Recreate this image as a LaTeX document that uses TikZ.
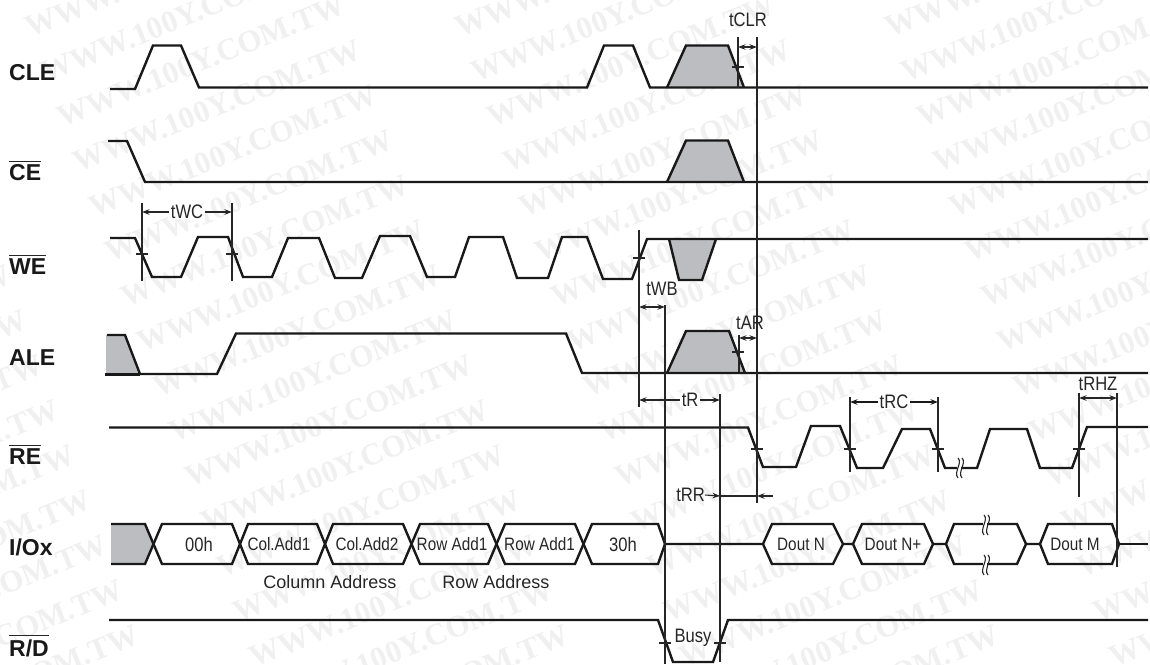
\documentclass[tikz,border=0pt]{standalone}
\usepackage{fontspec}
\setmainfont{Liberation Sans}
\newfontfamily\markfont{Liberation Serif}[BoldFont={Liberation Serif Bold}]
\newfontfamily\condfont[FakeStretch=0.85]{Liberation Sans}
\usetikzlibrary{positioning,arrows.meta}
\definecolor{shadegray}{RGB}{187,189,192}
\def\wmstepx{430}
\def\wmstepy{45}
\newcommand{\breakmark}[2]{
  \fill[white] (#1-2,#2-7) rectangle (#1+2,#2+7);
  \draw[thin line] (#1-1,#2-10) .. controls (#1+4,#2-5) and (#1-6,#2+4) .. (#1-1,#2+10);
  \draw[thin line] (#1+3,#2-10) .. controls (#1+8,#2-5) and (#1-2,#2+4) .. (#1+3,#2+10);
}
\tikzset{
>={Stealth[length=7.5pt,width=5.5pt]}, % small solid tips
sig line/.style={line width=2.4pt,black!90},
thin line/.style={line width=1.1pt,black!85},
dim/.style={thin line},
dim thick/.style={line width=2pt,black!90},
shaded/.style={fill=shadegray},
sig label/.style={font=\fontsize{23}{26}\bfseries\selectfont,anchor=west,inner sep=0pt,black!90},
time label/.style={font=\fontsize{19.5}{22}\condfont\selectfont,inner sep=0pt,black!85},
gap label/.style={time label,fill=white,inner xsep=2pt},
bus label/.style={font=\fontsize{18}{20}\condfont\selectfont,inner sep=0pt,black!85},
addr label/.style={font=\fontsize{18}{20}\selectfont,inner sep=0pt,black!85},
water mark/.style={font=\fontsize{31}{34}\markfont\bfseries\selectfont,black!6,rotate=22,inner sep=0pt},
}
\begin{document}
\begin{tikzpicture}[x=1pt,y=-1pt]
\useasboundingbox (0,0) rectangle (1150,664);
% watermark
\begin{scope}
\clip (0,0) rectangle (1150,664);
\foreach \c in {-1,...,2}
  \foreach \r in {-1,...,15}
    \node[water mark] (mark\c\r) at ({185+\c*\wmstepx+\r*16},{16+\r*\wmstepy}) {WWW.100Y.COM.TW};
\end{scope}
% shaded windows
\fill[shaded] (667,87.5) -- (686,45.5) -- (728,45.5) -- (744,87.5) -- cycle;
\fill[shaded] (667,182) -- (686,140.5) -- (728,140.5) -- (744,182) -- cycle;
\fill[shaded] (669,239) -- (679,280) -- (702,280) -- (716,239) -- cycle;
\fill[shaded] (667,372.5) -- (686,331) -- (729,331) -- (745,372.5) -- cycle;
\fill[shaded] (106,335) -- (125,335) -- (140,374) -- (106,374) -- cycle;
\fill[shaded] (111,524) -- (145,524) -- (153.5,544) -- (145,564) -- (111,564) -- cycle;
% CLE
\draw[sig line] (110,89) -- (135,89) -- (153,45.5) -- (181,45.5) -- (199,87.5) -- (587,87.5) -- (604,45.5) -- (633,45.5) -- (650,87.5) -- (1148,87.5);
\draw[sig line] (667,87.5) -- (686,45.5) -- (728,45.5) -- (744,87.5);
% CE
\draw[sig line] (108,141) -- (127,141) -- (145,182) -- (1148,182);
\draw[sig line] (667,182) -- (686,140.5) -- (728,140.5) -- (744,182);
% WE
\draw[sig line] (110,238) -- (135,238) -- (152,277) -- (181,277) -- (198,237) -- (228,237) -- (243,277) -- (272,277) -- (288,238) -- (319,238) -- (335,278) -- (362,278) -- (380,236) -- (410,236) -- (427,277) -- (455,277) -- (469,237) -- (503,237) -- (517,278) -- (548,278) -- (562,237) -- (587,237) -- (603,279) -- (632,279) -- (647,239) -- (1148,239);
\draw[sig line] (669,239) -- (679,280) -- (702,280) -- (716,239);
% ALE
\draw[sig line] (107,335) -- (125,335) -- (140,374) -- (217,374) -- (236,333.5) -- (566,333.5) -- (582,373) -- (1148,373);
\draw[sig line] (105,374.5) -- (140,374.5);
\draw[sig line] (667,373) -- (686,331) -- (729,331) -- (745,373);
% RE
\draw[sig line] (109,427.5) -- (748,427.5) -- (763,467) -- (796,467) -- (811,426) -- (840,426) -- (857,468) -- (883,468) -- (902,429) -- (930,429) -- (945,468) -- (977,468) -- (990,429) -- (1027,429) -- (1040,468) -- (1072,468) -- (1087,427) -- (1148,427);
\breakmark{959}{468}
% IO bus
\draw[sig line] (111,524) -- (145,524) -- (162,564) -- (232,564) -- (248,524) -- (317,524) -- (333,564) -- (403,564) -- (420,524) -- (488,524) -- (505,564) -- (575,564) -- (592,524) -- (658,524) -- (665,544);
\draw[sig line] (111,564) -- (145,564) -- (162,524) -- (232,524) -- (248,564) -- (317,564) -- (333,524) -- (403,524) -- (420,564) -- (488,564) -- (505,524) -- (575,524) -- (592,564) -- (658,564) -- (665,544);
\draw[sig line] (665,544) -- (763,544) -- (772,524) -- (833,524) -- (843,544) -- (833,564) -- (772,564) -- (763,544);
\draw[sig line] (843,544) -- (853,544) -- (862,524) -- (924,524) -- (933,544) -- (924,564) -- (862,564) -- (853,544);
\draw[sig line] (933,544) -- (946,544) -- (954,524) -- (1017,524) -- (1026,544) -- (1017,564) -- (954,564) -- (946,544);
\draw[sig line] (1026,544) -- (1040,544) -- (1048,524) -- (1112,524) -- (1119,544) -- (1112,564) -- (1048,564) -- (1040,544);
\draw[sig line] (1119,544) -- (1148,544);
\breakmark{985}{525}
\breakmark{985}{565}
% RD
\draw[sig line] (109,620) -- (658,620) -- (673,662) -- (713,662) -- (728,620) -- (1148,620);
% guide lines
\foreach \x/\a/\b in {142/203/281,232/203/281,738/37/88,757/37/503,639/230/407,665/305/664,720/394/662,739/335/372,850/397/472,938/397/472,1079/393/497,1117/393/567}
  \draw[thin line] (\x,\a) -- (\x,\b);
% crossing ticks
\foreach \x/\y in {142/254,232/254,738/67,639/258,738/352,757/449,850/449,938/449,1079/449,665/643,720/643}
  \draw[thin line] (\x-6,\y) -- (\x+6,\y);
% timing arrows
\draw[dim,<->] (142,212) -- node[gap label] (twc) {tWC} (232,212);
\draw[dim,<->] (738,47) -- (757,47);
\node[time label] (tclr) at (748,20) {tCLR};
\node[time label] (twb) at (662,289) {tWB};
\draw[dim,<->] (639,307) -- (665,307);
\node[time label] (tar) at (750,323) {tAR};
\draw[dim,<->] (739,338) -- (757,338);
\draw[dim,<->] (639,400) -- node[gap label,pos=.63] (tr) {tR} (720,400);
\draw[dim thick,<->] (850,402) -- node[gap label] (trc) {tRC} (938,402);
\node[time label] (trhz) at (1098,384) {tRHZ};
\draw[dim,<->] (1079,398) -- (1117,398);
\node[time label,anchor=east] (trr) at (705,495) {tRR};
\draw[dim,->] (trr.east) -- (720,496);
\draw[dim] (720,496) -- (757,496);
\draw[dim,<-] (757,496) -- (773,496);
% signal names
\node[sig label] (cle) at (9,73) {CLE};
\node[sig label] (ce) at (9,173) {CE};
\node[sig label] (we) at (9,267) {WE};
\node[sig label] (ale) at (9,358) {ALE};
\node[sig label] (re) at (9,457) {RE};
\node[sig label] (io) at (9,547) {I/Ox};
\node[sig label] (rd) at (9,648) {R/D};
\foreach \n in {ce,we,re,rd}
  \draw[thin line,line width=1.2pt] ([yshift=3.5pt]\n.north west) -- ([yshift=3.5pt]\n.north east);
% bus contents
\node[time label] (cmda) at (199,545) {00h};
\node[bus label] (cola) at (279,544) {Col.Add1};
\node[bus label] (colb) at (367,544) {Col.Add2};
\node[bus label] (rowa) at (452,544) {Row Add1};
\node[bus label] (rowb) at (539.5,544) {Row Add1};
\node[time label] (cmdb) at (623,545) {30h};
\node[bus label] (dn) at (801,544) {Dout N};
\node[bus label] (dnp) at (893,544) {Dout N+};
\node[bus label] (dm) at (1075,544) {Dout M};
\node[addr label] (cadr) at (330,582) {Column Address};
\node[addr label] (radr) at (496,582) {Row Address};
\node[time label] (busy) at (693,638) {Busy};
\end{tikzpicture}
\end{document}
